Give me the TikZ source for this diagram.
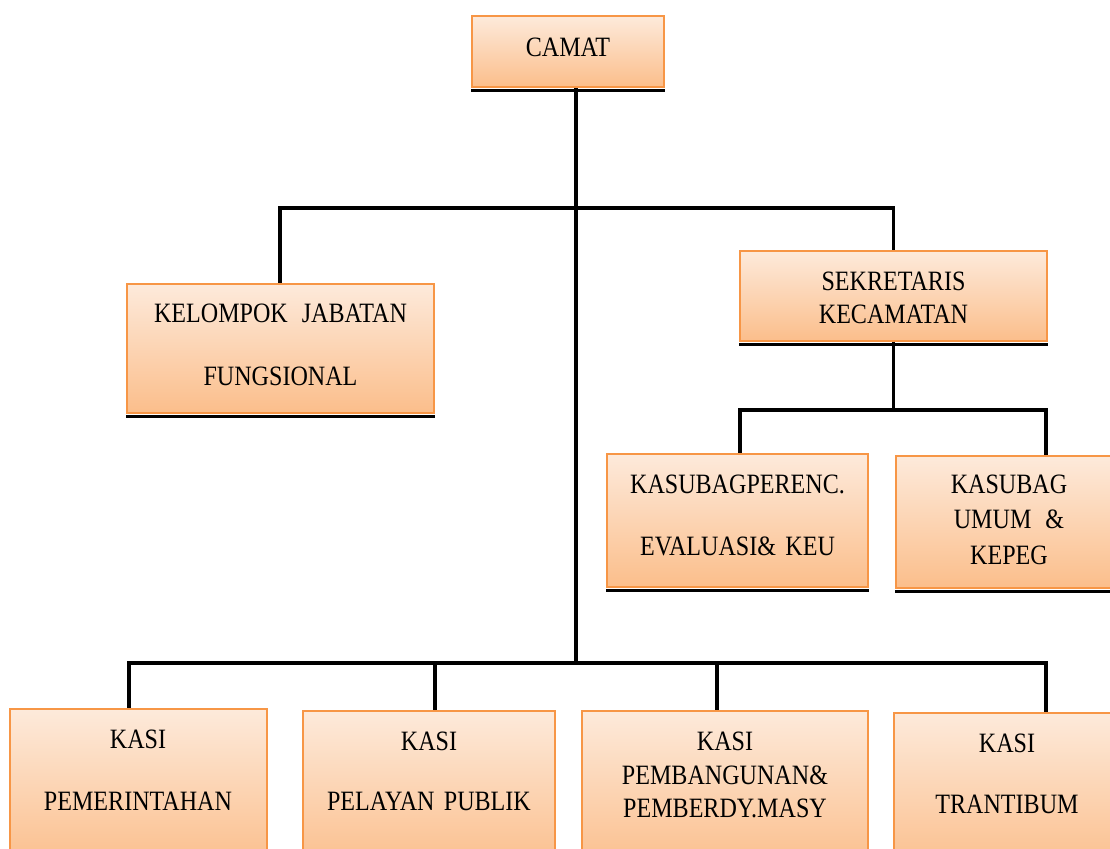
\documentclass[tikz,border=0pt]{standalone}
\usepackage{fontspec}
\setmainfont{Liberation Serif}[FakeStretch=0.86]

\definecolor{kotakgaris}{HTML}{F79646}
\definecolor{kotakatas}{HTML}{FDEADB}
\definecolor{kotakbawah}{HTML}{FBBE8B}

\begin{document}
\begin{tikzpicture}[
       x=0.5pt, y=-0.5pt,
       garis/.style={
         draw=black,
         line width=1.6pt
       },
       bayang/.style={
         draw=black,
         line width=1.6pt
       },
       kotak/.style={
         rectangle,
         draw=kotakgaris,
         line width=1pt,
         top color=kotakatas,
         bottom color=kotakbawah,
         anchor=north,
         inner sep=0pt,
         align=center,
         font=\fontsize{14}{17}\selectfont,
         append after command={
           ([yshift=-1.25pt]\tikzlastnode.south west) edge[bayang]
           ([yshift=-1.25pt]\tikzlastnode.south east)
         }
       }
     ]

       \clip (0,0) rectangle (1110,849);

       % kotak-kotak
       \node (camat) at (568,15) [kotak,text width=96pt,text height=20.15pt,text depth=15.35pt]{CAMAT};
       \node (kjf) at (280.5,283) [kotak,text width=153.5pt,text height=19.15pt,text depth=45.35pt]{KELOMPOK\ \,JABATAN\\[14.5pt]FUNGSIONAL};
       \node (sekcam) at (893.5,250) [kotak,text width=153.5pt,text height=19.65pt,text depth=25.35pt]{SEKRETARIS\\[-0.5pt]KECAMATAN};
       \node (perenc) at (737.5,453) [kotak,text width=130.5pt,text height=19.65pt,text depth=46.85pt]{KASUBAGPERENC.\\[14pt]EVALUASI\& KEU};
       \node (umum) at (1009,455) [kotak,text width=113pt,text height=18.65pt,text depth=47.35pt]{KASUBAG\\[0.75pt]UMUM\ \,\&\\[0.75pt]KEPEG};

       \node (pem) at (138,708) [kotak,text width=128.5pt,text height=19.65pt,text depth=60pt]{KASI\\[14pt]PEMERINTAHAN};
       \node (pel) at (429,710) [kotak,text width=126pt,text height=19.65pt,text depth=60pt]{KASI\\[13pt]PELAYAN PUBLIK};
       \node (pmb) at (725,710) [kotak,text width=143pt,text height=19.65pt,text depth=60pt]{KASI\\PEMBANGUNAN\&\\[-0.5pt]PEMBERDY.MASY};
       \node (tra) at (1007,712) [kotak,text width=113pt,text height=19.65pt,text depth=60pt]{KASI\\[13.5pt]TRANTIBUM};

       % titik cabang
       \coordinate (batang) at (576,663);
       \coordinate (c1) at (280,208);
       \coordinate (s1) at (740,410);
       \coordinate (s2) at (1046,410);
       \coordinate (t1) at (129,663);
       \coordinate (t2) at (435,663);
       \coordinate (t3) at (717,663);
       \coordinate (t4) at (1046,663);

       % garis
       \draw[garis] (camat.south -| batang) -- (batang);
       \draw[garis] (kjf.north -| c1) -- (c1) -- (sekcam.north |- c1) -- (sekcam.north);
       \draw[garis] (sekcam.south) -- (sekcam.south |- s1);
       \draw[garis] (perenc.north -| s1) -- (s1) -- (s2) -- (umum.north -| s2);
       \draw[garis] (pem.north -| t1) -- (t1) -- (t4) -- (tra.north -| t4);
       \draw[garis] (t2) -- (pel.north -| t2);
       \draw[garis] (t3) -- (pmb.north -| t3);

\end{tikzpicture}
\end{document}
